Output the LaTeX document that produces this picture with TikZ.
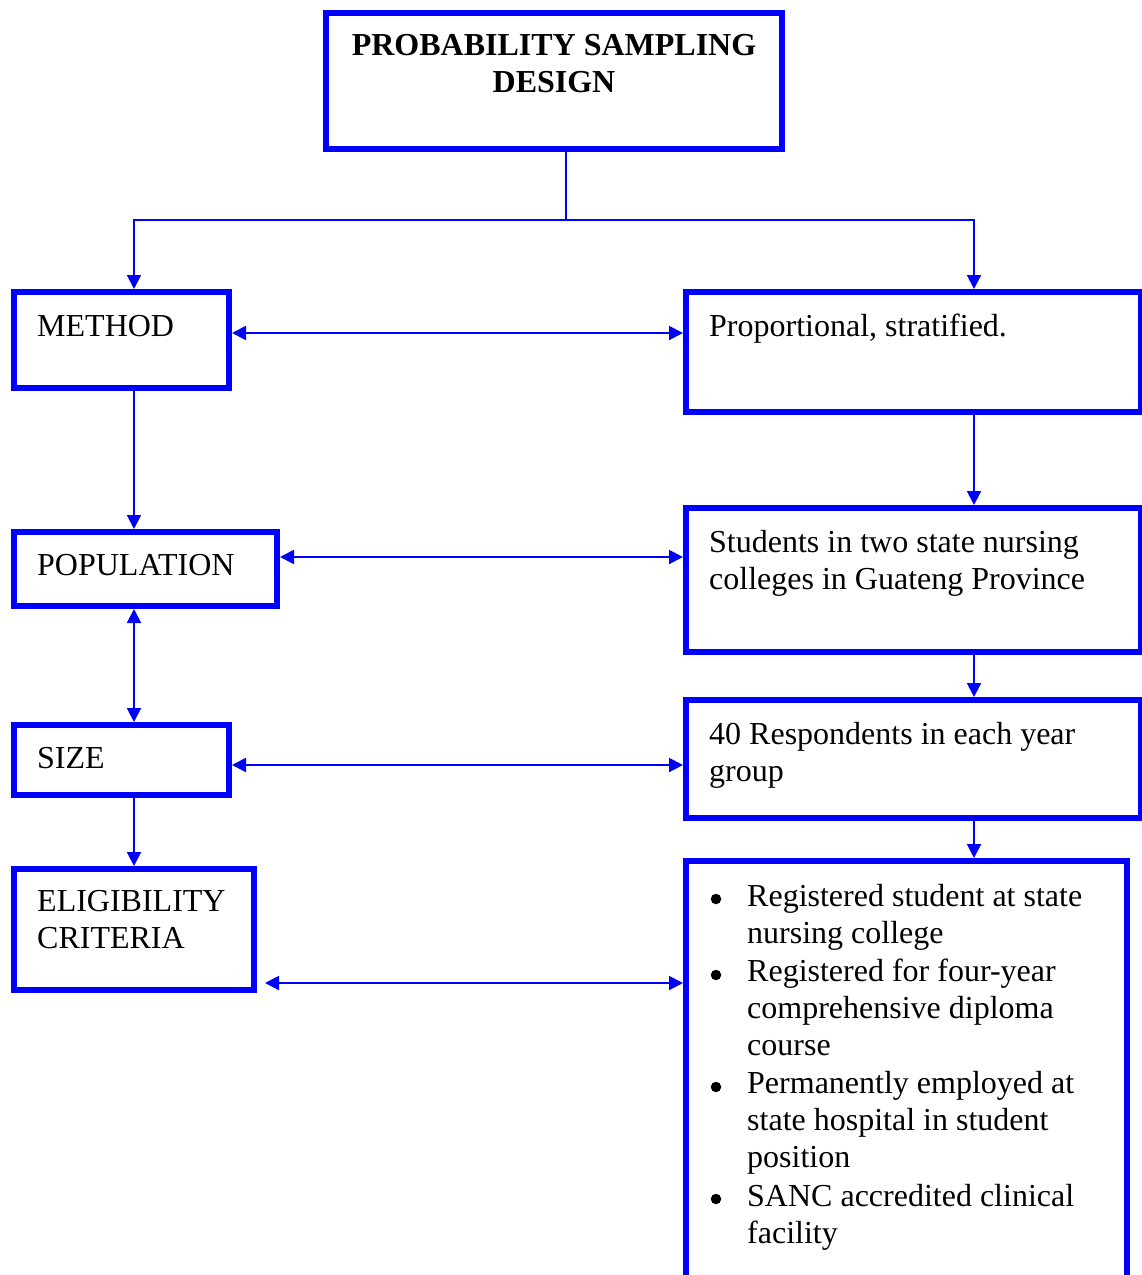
\documentclass[tikz,border=0pt]{standalone}
\usepackage{fontspec}
\setmainfont{Liberation Serif}
\usetikzlibrary{arrows.meta,calc}
\definecolor{frameblue}{RGB}{0,0,255}

\begin{document}
\begin{tikzpicture}[x=1pt,y=-1pt,
  box/.style={draw=frameblue, line width=6pt, rectangle, inner sep=0pt, fill=white},
  tip/.tip={Triangle[length=14pt,width=14pt]},
  link/.style={draw=frameblue, line width=2pt, -tip},
  twoway/.style={draw=frameblue, line width=2pt, tip-tip},
  plain/.style={draw=frameblue, line width=2pt},
  % multi-line texts are placed by the baseline of their last line
  txt/.style={anchor=base west, inner sep=0pt, align=left, font=\fontsize{32}{37}\selectfont, text=black},
  dot/.style={circle, fill=black, inner sep=0pt, minimum size=10.5pt},
]
\useasboundingbox (0,0) rectangle (1142,1275);

% boxes
\node[box, minimum width=456pt, minimum height=136pt] (design) at (554,81) {};
\node[box, minimum width=215pt, minimum height=96pt]  (method) at (121.5,340) {};
\node[box, minimum width=455pt, minimum height=120pt] (strat) at (913.5,352) {};
\node[box, minimum width=263pt, minimum height=74pt]  (population) at (145.5,569) {};
\node[box, minimum width=455pt, minimum height=144pt] (students) at (913.5,580) {};
\node[box, minimum width=215pt, minimum height=70pt]  (size) at (121.5,760) {};
\node[box, minimum width=455pt, minimum height=118pt] (respondents) at (913.5,759) {};
\node[box, minimum width=240pt, minimum height=121pt] (eligibility) at (134,929.5) {};
\node[box, minimum width=441pt, minimum height=460pt] (criteria) at (906.5,1091) {};

% texts
\node[txt, anchor=base, align=center, font=\fontsize{32}{37}\selectfont\bfseries] (tdesign) at (554,92) {PROBABILITY SAMPLING\\DESIGN};
\node[txt] (tmethod) at (37,336) {METHOD};
\node[txt] (tstrat) at (709,336) {Proportional, stratified.};
\node[txt] (tpop) at (37,575) {POPULATION};
\node[txt] (tstud) at (709,589) {Students in two state nursing\\colleges in Guateng Province};
\node[txt] (tsize) at (37,768) {SIZE};
\node[txt] (tresp) at (709,781) {40 Respondents in each year\\group};
\node[txt] (telig) at (37,948) {ELIGIBILITY\\CRITERIA};

% bulleted criteria
\node[dot] (b1) at (716,899) {};
\node[txt] (c1) at (747,943) {Registered student at state\\nursing college};
\node[dot] (b2) at (716,975) {};
\node[txt] (c2) at (747,1055) {Registered for four-year\\comprehensive diploma\\course};
\node[dot] (b3) at (716,1087) {};
\node[txt] (c3) at (747,1167) {Permanently employed at\\state hospital in student\\position};
\node[dot] (b4) at (716,1199) {};
\node[txt] (c4) at (747,1243) {SANC accredited clinical\\facility};

% connectors
\coordinate (split) at (566,220);
\draw[plain] (design.south -| split) -- (split);
\draw[link] (split) -| (method.north -| 134,0);
\draw[link] (split) -| (strat.north -| 974,0);

\draw[twoway] (method.east |- 0,333) -- (strat.west |- 0,333);
\draw[link] (method.south -| 134,0) -- (population.north -| 134,0);
\draw[link] (strat.south -| 974,0) -- (students.north -| 974,0);

\draw[twoway] (population.east |- 0,557) -- (students.west |- 0,557);
\draw[twoway] (population.south -| 134,0) -- (size.north -| 134,0);
\draw[link] (students.south -| 974,0) -- (respondents.north -| 974,0);

\draw[twoway] (size.east |- 0,765) -- (respondents.west |- 0,765);
\draw[link] (size.south -| 134,0) -- (eligibility.north -| 134,0);
\draw[link] (respondents.south -| 974,0) -- (criteria.north -| 974,0);

\draw[twoway, shorten <=8pt] (eligibility.east |- 0,983) -- (criteria.west |- 0,983);
\end{tikzpicture}
\end{document}
